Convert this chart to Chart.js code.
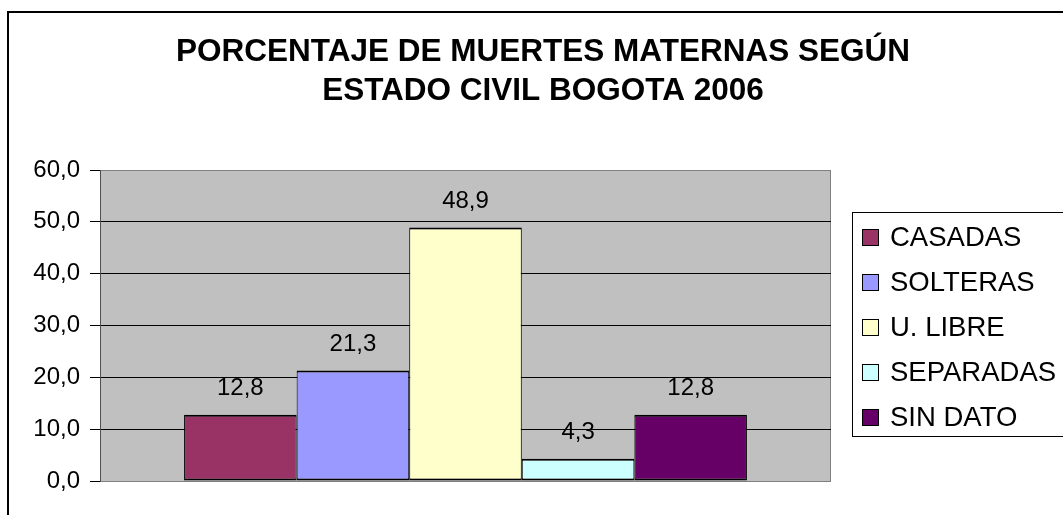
<!DOCTYPE html>
<html>
<head>
<meta charset="utf-8">
<script src="https://cdn.jsdelivr.net/npm/chart.js@4"></script>
<style>
  html, body { margin: 0; padding: 0; background: #fff; overflow: hidden; }
  #chart { position: absolute; left: 0; top: 0; }
</style>
</head>
<body>
<canvas id="chart" width="1085" height="515"></canvas>
<script>
// data
const titleLines = ['PORCENTAJE DE MUERTES MATERNAS SEGÚN', 'ESTADO CIVIL BOGOTA 2006'];
const categories = ['CASADAS', 'SOLTERAS', 'U. LIBRE', 'SEPARADAS', 'SIN DATO'];
const values = [12.8, 21.3, 48.9, 4.3, 12.8];
const valueLabels = ['12,8', '21,3', '48,9', '4,3', '12,8'];
const barColors = ['#993366', '#9999FF', '#FFFFCC', '#CCFFFF', '#660066'];
const yTickLabels = ['0,0', '10,0', '20,0', '30,0', '40,0', '50,0', '60,0'];

const FONT = "'Liberation Sans', Arial, sans-serif";

// Excel-like frame, plot background, title, value labels and boxed legend
const excelLook = {
    id: 'excelLook',
    beforeDraw(chart) {
        const { ctx, chartArea: a } = chart;
        ctx.save();
        ctx.fillStyle = '#C0C0C0';
        ctx.fillRect(a.left, a.top, a.right - a.left, a.bottom - a.top);
        ctx.strokeStyle = '#808080';
        ctx.lineWidth = 1;
        ctx.strokeRect(a.left + 0.5, a.top + 0.5, a.right - a.left - 1, a.bottom - a.top);
        ctx.restore();
    },
    afterDraw(chart) {
        const { ctx } = chart;
        ctx.save();

        // outer chart frame
        ctx.strokeStyle = '#000';
        ctx.lineWidth = 2;
        ctx.strokeRect(8, 12, 1070, 520);

        // title
        ctx.fillStyle = '#000';
        ctx.font = `bold 31.5px ${FONT}`;
        ctx.textAlign = 'center';
        ctx.textBaseline = 'alphabetic';
        ctx.fillText(titleLines[0], 543, 61);
        ctx.fillText(titleLines[1], 543, 100);

        // value labels above bars
        ctx.font = `24px ${FONT}`;
        chart.data.datasets.forEach((ds, i) => {
            const el = chart.getDatasetMeta(i).data[0];
            ctx.fillText(valueLabels[i], el.x, el.y - 20);
        });

        // legend box
        ctx.lineWidth = 1;
        ctx.strokeStyle = '#000';
        ctx.strokeRect(852.5, 212.5, 260, 224);
        ctx.textAlign = 'left';
        ctx.font = `27.5px ${FONT}`;
        chart.data.datasets.forEach((ds, i) => {
            const cy = 237 + i * 45;
            ctx.fillStyle = ds.backgroundColor;
            ctx.fillRect(862, cy - 8, 17, 17);
            ctx.strokeStyle = '#000';
            ctx.strokeRect(862.5, cy - 7.5, 16, 16);
            ctx.fillStyle = '#000';
            ctx.fillText(ds.label, 890, cy + 9);
        });
        ctx.restore();
    }
};

new Chart(document.getElementById('chart'), {
    type: 'bar',
    data: {
        labels: [''],
        datasets: categories.map((name, i) => ({
            label: name,
            data: [values[i]],
            backgroundColor: barColors[i],
            borderColor: '#000',
            borderWidth: { top: 2, bottom: 2, left: 1, right: 1 },
            borderSkipped: false,
            categoryPercentage: 0.77,
            barPercentage: 1.0
        }))
    },
    options: {
        responsive: false,
        animation: false,
        devicePixelRatio: 1,
        layout: { padding: { left: 0, top: 170, right: 1085 - 831, bottom: 515 - 481 } },
        plugins: {
            legend: { display: false },
            title: { display: false },
            tooltip: { enabled: false }
        },
        scales: {
            x: { display: false },
            y: {
                min: 0,
                max: 60,
                afterFit: (scale) => { scale.width = 100; },
                ticks: {
                    stepSize: 10,
                    padding: 10,
                    color: '#000',
                    font: { family: FONT, size: 24 },
                    callback: (value, index) => yTickLabels[index]
                },
                grid: {
                    color: (c) => (c.tick.value === 0 || c.tick.value === 60) ? 'rgba(0,0,0,0)' : '#000',
                    tickColor: '#000',
                    tickLength: 10,
                    lineWidth: 1
                },
                border: { color: '#505050', width: 1 }
            }
        }
    },
    plugins: [excelLook]
});
</script>
</body>
</html>
